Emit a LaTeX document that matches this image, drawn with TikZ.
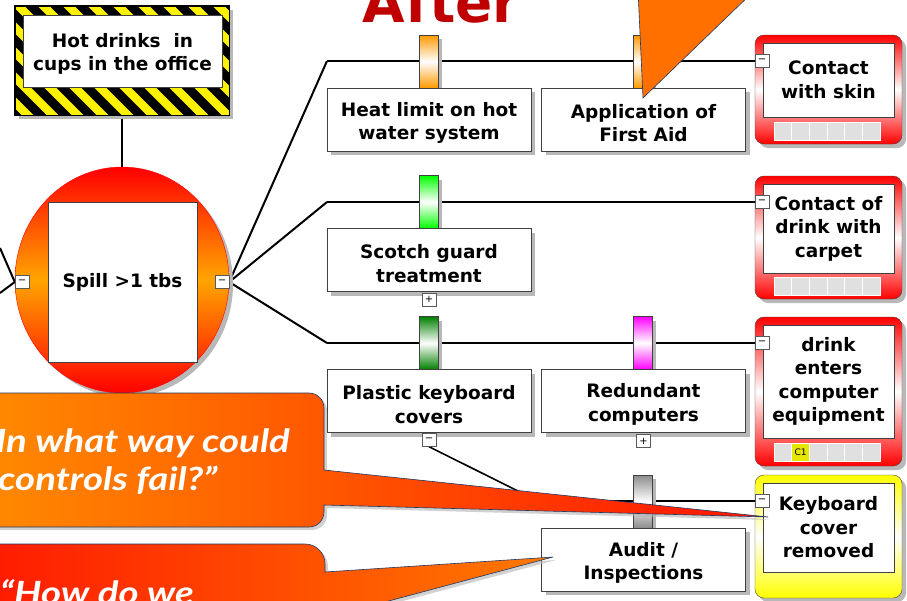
\documentclass[tikz,border=0pt]{standalone}
\usepackage{fontspec}
\setmainfont{DejaVu Sans}
\newfontfamily\callfont[FakeStretch=1.2]{Lato}
\usetikzlibrary{shapes.geometric,shadows}
\pgfdeclarelayer{bg}
\pgfsetlayers{bg,main}
\definecolor{tabor}{RGB}{255,153,0}
\definecolor{tabgr}{RGB}{0,255,0}
\definecolor{tabdg}{RGB}{0,128,0}
\definecolor{tabmg}{RGB}{255,0,255}
\definecolor{tabgy}{RGB}{140,140,140}
\definecolor{consred}{RGB}{255,0,0}
\definecolor{consyel}{RGB}{255,255,0}
\definecolor{spillor}{RGB}{255,165,0}
\definecolor{titlered}{RGB}{192,0,0}
\definecolor{callA}{RGB}{255,140,0}
\definecolor{callB}{RGB}{255,20,0}
\definecolor{callC}{RGB}{255,24,0}
\definecolor{callD}{RGB}{255,122,0}
\definecolor{callE}{RGB}{255,112,0}
\definecolor{calledge}{RGB}{31,56,100}
\definecolor{sqgrey}{RGB}{224,224,224}
\definecolor{c1yel}{RGB}{230,230,0}
\tikzset{
 shad/.style={drop shadow={shadow xshift=4pt,shadow yshift=-4pt,fill=black!28,opacity=1}},
 txt/.style={font=\bfseries\fontsize{18.5}{23.5}\selectfont,align=center,inner sep=0pt},
 ctrlbox/.style={rectangle,draw=black!75,fill=white,minimum width=204pt,minimum height=63pt,inner sep=0pt,shad},
 tabbox/.style={rectangle,draw=black!75,minimum width=19pt,minimum height=53pt,inner sep=0pt,top color=#1,bottom color=#1,middle color=white,shad},
 pmbox/.style={rectangle,draw=black!65,fill=white,minimum width=14pt,minimum height=13pt,inner sep=0pt,font=\fontsize{10}{10}\selectfont},
 consout/.style={rectangle,rounded corners=9pt,draw=black!75,minimum width=147pt,inner sep=0pt,top color=#1,bottom color=#1,middle color=white,shad},
 consin/.style={rectangle,draw=black!75,fill=white,minimum width=131pt,inner sep=0pt,txt},
 sq/.style={rectangle,draw=white,fill=sqgrey,minimum width=17.67pt,minimum height=18pt,inner sep=0pt,font=\fontsize{9}{9}\selectfont},
 branch/.style={draw=black,line width=2pt},
 hline/.style={draw=black,line width=2.6pt},
 calltext/.style={text=white,font=\callfont\bfseries\itshape\fontsize{32}{38}\selectfont,inner sep=0pt},
 callshad/.style={drop shadow={shadow xshift=3pt,shadow yshift=-3pt,fill=black!30,opacity=0.6}},
}
\begin{document}
\begin{tikzpicture}[x=1pt,y=-1pt]
\useasboundingbox (0,0) rectangle (907,600);
\begin{scope}
\clip (0,0) rectangle (907,600);
% hazard
\node[rectangle,draw=black,fill=yellow,minimum width=214pt,minimum height=109pt,inner sep=0pt,shad] (haz) at (122,60.5) {};
\begin{scope}
\clip (haz.south west) rectangle (haz.north east);
\foreach \k in {-5,...,10} \draw[line width=9pt] (\k*25,0) -- ++(125,125);
\end{scope}
\draw[black,line width=1pt] (haz.south west) rectangle (haz.north east);
\node[rectangle,draw=black!75,fill=white,minimum width=199pt,minimum height=72pt,inner sep=0pt] (hazin) at (122.5,51) {};
\node[txt] (hazt) at ([yshift=-3pt]hazin.center) {Hot drinks\ \ in\\cups in the office};
% spill
\node[ellipse,draw=red,minimum width=214pt,minimum height=226pt,inner sep=0pt,top color=red,bottom color=red,middle color=spillor,shad] (spill) at (122,280) {};
\node[rectangle,draw=black!75,fill=white,minimum width=149pt,minimum height=160pt,inner sep=0pt,txt] (spillin) at (122.5,282) {Spill >1 tbs};
\node[pmbox] (mL) at (22,282) {−};
\node[pmbox] (mR) at (222,282) {−};
% tabs
\node[tabbox=tabor] (t1) at (428.5,61.5) {};
\node[tabbox=tabor] (t2) at (642.5,61.5) {};
\node[tabbox=tabgr] (t3) at (428.5,202) {};
\node[tabbox=tabdg] (t4) at (428.5,343) {};
\node[tabbox=tabmg] (t5) at (642.5,343) {};
\node[tabbox=tabgy] (t6) at (642.5,501.5) {};
% controls
\node[ctrlbox] (c1) at (429,119.5) {};
\node[txt] (c1t) at ([yshift=-3.5pt]c1.center) {Heat limit on hot\\water system};
\node[ctrlbox] (c2) at (643.5,119.5) {};
\node[txt] (c2t) at ([yshift=-3.5pt]c2.center) {Application of\\First Aid};
\node[ctrlbox] (c3) at (429,260) {};
\node[txt] (c3t) at ([yshift=-3.5pt]c3.center) {Scotch guard\\treatment};
\node[ctrlbox] (c4) at (429,401) {};
\node[txt] (c4t) at ([yshift=-3.5pt]c4.center) {Plastic keyboard\\covers};
\node[ctrlbox] (c5) at (643.5,401) {};
\node[txt] (c5t) at ([yshift=-3.5pt]c5.center) {Redundant\\computers};
\node[ctrlbox] (c6) at (643.5,559.5) {};
\node[txt] (c6t) at ([yshift=-3.5pt]c6.center) {Audit /\\Inspections};
\node[pmbox] (p3) at (429,299.5) {+};
\node[pmbox] (p4) at (429,440) {−};
\node[pmbox] (p5) at (643.5,441) {+};
% consequences
\node[consout=consred,minimum height=109pt] (k1) at (828.5,89.5) {};
\node[consin,minimum height=74pt] (k1in) at (828.5,80) {Contact\\with skin};
\foreach \i in {0,...,5} \node[sq] (k1s\i) at ({782.83+17.67*\i},131) {};
\node[consout=consred,minimum height=123pt] (k2) at (828.5,237.5) {};
\node[consin,minimum height=89pt] (k2in) at (828.5,228.5) {Contact of\\drink with\\carpet};
\foreach \i in {0,...,5} \node[sq] (k2s\i) at ({782.83+17.67*\i},286.5) {};
\node[consout=consred,minimum height=149pt] (k3) at (828.5,391.5) {};
\node[consin,minimum height=113pt] (k3in) at (828.5,381.5) {drink\\enters\\computer\\equipment};
\foreach \i in {0,2,3,4,5} \node[sq] (k3s\i) at ({782.83+17.67*\i},452.5) {};
\node[sq,fill=c1yel] (k3c1) at (800.5,452.5) {C1};
\node[consout=consyel,minimum height=123pt] (k4) at (828.5,536.5) {};
\node[consin,minimum height=89pt] (k4in) at (828.5,527.5) {Keyboard\\cover\\removed};
\node[pmbox] (m1) at (762,61) {−};
\node[pmbox] (m2) at (762,202) {−};
\node[pmbox] (m3) at (762,343) {−};
\node[pmbox] (m4) at (762,501) {−};
% connectors
\coordinate (b1) at (327,61);
\coordinate (b2) at (327,202);
\coordinate (b3) at (327,343);
\coordinate (b4) at (538,501);
\coordinate (lA) at (0,248);
\coordinate (lB) at (0,293);
\begin{pgfonlayer}{bg}
\draw[line width=1.5pt] (haz.south) -- (spill.north);
\draw[branch] (mR.east) -- (b1);
\draw[branch] (mR.east) -- (b2);
\draw[branch] (mR.east) -- (b3);
\draw[hline] (b1) -- (m1.west);
\draw[hline] (b2) -- (m2.west);
\draw[hline] (b3) -- (m3.west);
\draw[line width=1.6pt] (p4.south) -- (b4);
\draw[hline] (b4) -- (m4.west);
\draw[branch] (mL.west) -- (lA);
\draw[branch] (mL.west) -- (lB);
\end{pgfonlayer}
% title
\node[anchor=base,text=titlered,font=\bfseries\fontsize{55}{60}\selectfont,inner sep=0pt] (title) at (441.5,22) {After};
% callouts
\path[fill=callE,draw=calledge,line width=0.6pt] (638,-10) -- (643,98) -- (755,-10) -- cycle;
\path[left color=callA,right color=callB,draw=calledge,line width=0.6pt,callshad]
  (-30,393) -- (309,393) arc[start angle=-90,end angle=0,radius=15] -- (324,470) -- (768,517) -- (324,505) -- (324,512) arc[start angle=0,end angle=90,radius=15] -- (-30,527) -- cycle;
\node[calltext,anchor=base east] (q1a) at (290,452) {“In what way could};
\node[calltext,anchor=base west] (q1b) at (-2,490) {controls fail?”};
\path[left color=callC,right color=callD,draw=calledge,line width=0.6pt,callshad]
  (-30,544) -- (305,544) arc[start angle=-90,end angle=0,radius=20] -- (325,572) -- (553,557) -- (325,618) -- (325,640) -- (-30,640) -- cycle;
\node[calltext,anchor=base west] (q2a) at (0,604) {“How do we};
\end{scope}
\end{tikzpicture}
\end{document}
